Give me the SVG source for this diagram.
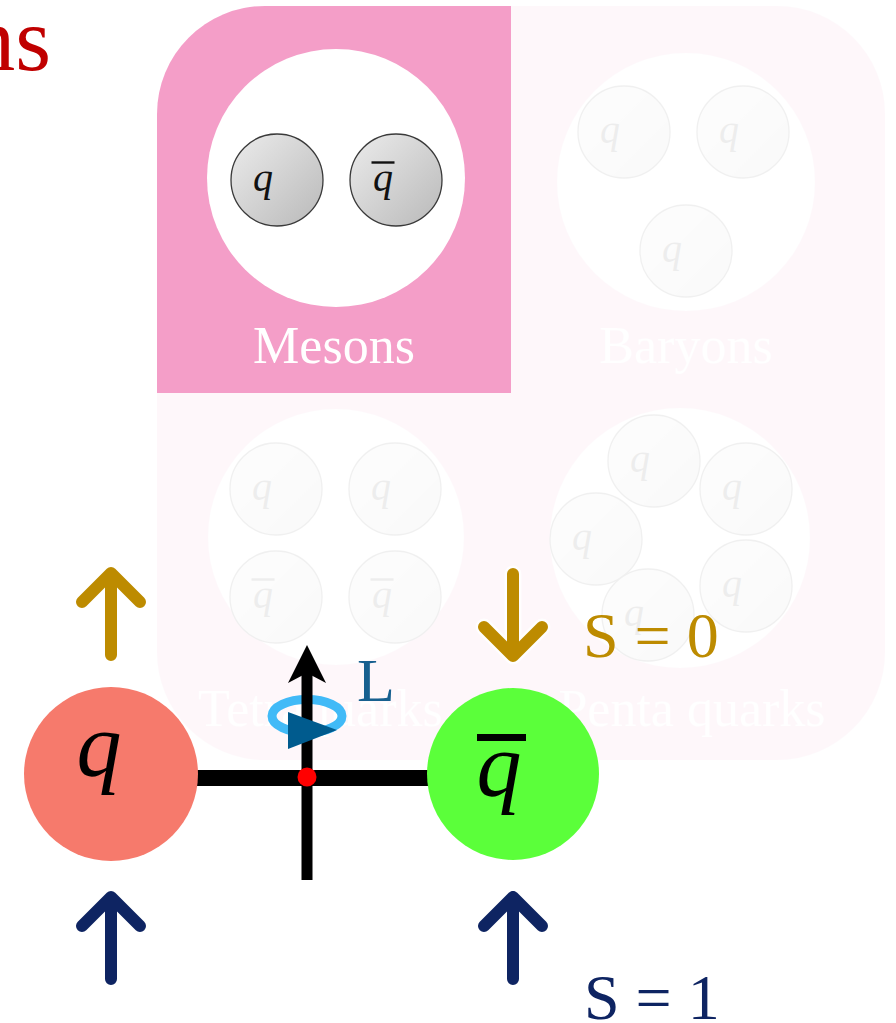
<svg xmlns="http://www.w3.org/2000/svg" width="896" height="1023" viewBox="0 0 896 1023">
  <style>
    .serif { font-family: "Liberation Serif", "Times New Roman", serif; }
    .qi { font-family: "Liberation Serif", "Times New Roman", serif; font-style: italic; font-size: 40px; fill: #111; text-anchor: middle; }
    .label { font-family: "Liberation Serif", "Times New Roman", serif; font-size: 52px; fill: #ffffff; }
    .big-q { font-family: "Liberation Serif", "Times New Roman", serif; font-style: italic; font-size: 90px; fill: #000; text-anchor: middle; }
    .spin { fill: none; stroke-width: 12; stroke-linecap: round; stroke-linejoin: round; }
    .halo { fill: none; stroke: #ffffff; stroke-width: 17; stroke-linecap: round; stroke-linejoin: round; opacity: 0.8; }
    .gold { stroke: #bd8b00; }
    .navy { stroke: #0e2462; }
  </style>
  <defs>
    <linearGradient id="gray" x1="0" y1="0" x2="1" y2="1">
      <stop offset="0" stop-color="#ececec"/>
      <stop offset="1" stop-color="#b9b9b9"/>
    </linearGradient>
    <g id="quark">
      <circle r="46" fill="url(#gray)" stroke="#3a3a3a" stroke-width="1.3"/>
      <text class="qi" x="-14" y="11">q</text>
    </g>
    <g id="antiquark">
      <circle r="46" fill="url(#gray)" stroke="#3a3a3a" stroke-width="1.3"/>
      <text class="qi" x="-13" y="11">q</text>
      <line x1="-24.5" y1="-17.5" x2="-1.5" y2="-17.5" stroke="#111" stroke-width="2.4"/>
    </g>
    <!-- spin arrow pointing up, apex at origin -->
    <path id="spinUp" d="M-29,29 L0,0 L29,29 M0,0 L0,82"/>
  </defs>

  <rect width="896" height="1023" fill="#ffffff"/>

  <!-- title fragment -->
  <text class="serif" x="51" y="70" font-size="92" fill="#c00000" text-anchor="end">ns</text>

  <!-- faded hadron panels -->
  <g id="hadron-panels-faded" opacity="0.07">
    <rect x="157" y="6" width="728" height="754" rx="108" ry="108" fill="#f49ec8"/>
    <g id="baryons">
      <circle cx="686" cy="182" r="129" fill="#ffffff"/>
      <use href="#quark" x="624" y="132"/>
      <use href="#quark" x="743" y="132"/>
      <use href="#quark" x="686" y="251"/>
      <text class="label" x="686" y="363" text-anchor="middle">Baryons</text>
    </g>
    <g id="tetraquarks">
      <circle cx="336" cy="537" r="128" fill="#ffffff"/>
      <use href="#quark" x="276" y="489"/>
      <use href="#quark" x="395" y="489"/>
      <use href="#antiquark" x="276" y="597"/>
      <use href="#antiquark" x="395" y="597"/>
      <text class="label" x="198" y="726">Tetraquarks</text>
    </g>
    <g id="pentaquarks">
      <circle cx="680" cy="538" r="130" fill="#ffffff"/>
      <use href="#quark" x="654" y="461"/>
      <use href="#quark" x="746" y="489"/>
      <use href="#quark" x="596" y="539"/>
      <use href="#quark" x="648" y="615"/>
      <use href="#quark" x="746" y="586"/>
      <text class="label" x="692" y="726" text-anchor="middle">Penta quarks</text>
    </g>
  </g>

  <!-- mesons panel -->
  <g id="mesons">
    <path d="M157,114 A108,108 0 0 1 265,6 L511,6 L511,393 L157,393 Z" fill="#f49ec8"/>
    <circle cx="336" cy="178" r="129" fill="#ffffff"/>
    <use href="#quark" x="277" y="180"/>
    <use href="#antiquark" x="396" y="180"/>
    <text class="label" x="334" y="363" text-anchor="middle">Mesons</text>
  </g>

  <!-- connectors: string between the pair and the orbital axis -->
  <g id="connectors">
    <rect x="190" y="770" width="244" height="16" fill="#000"/>
    <ellipse cx="307" cy="716" rx="35" ry="16.5" fill="none" stroke="#41baf7" stroke-width="9"/>
    <line x1="307" y1="670" x2="307" y2="880" stroke="#000" stroke-width="11"/>
    <polygon points="307,645 326,683 307,673 288,683" fill="#000"/>
    <polygon points="288,712 337,730 288,749" fill="#005b8e"/>
    <circle cx="307" cy="777" r="9.5" fill="#ff0000"/>
  </g>

  <g id="quark-q">
    <circle cx="111" cy="774" r="87" fill="#f67a6c"/>
    <text class="big-q" x="99" y="776">q</text>
  </g>
  <g id="quark-qbar">
    <circle cx="513" cy="774" r="86" fill="#5bff3a"/>
    <rect x="477" y="734" width="49" height="7" fill="#000"/>
    <text class="big-q" x="499" y="796">q</text>
  </g>

  <text class="serif" x="357" y="701" font-size="62" fill="#17608f">L</text>

  <!-- spin configurations -->
  <g id="spins-s0">
    <use href="#spinUp" class="halo" x="111" y="573"/>
    <use href="#spinUp" class="spin gold" x="111" y="573"/>
    <use href="#spinUp" class="halo" transform="translate(513,656) scale(1,-1)"/>
    <use href="#spinUp" class="spin gold" transform="translate(513,656) scale(1,-1)"/>
    <text class="serif" x="583" y="657" font-size="64" fill="#bd8b00">S = 0</text>
  </g>
  <g id="spins-s1">
    <use href="#spinUp" class="spin navy" x="111" y="897"/>
    <use href="#spinUp" class="spin navy" x="513" y="897"/>
    <text class="serif" x="584" y="1019" font-size="64" fill="#0e2462">S = 1</text>
  </g>
</svg>
